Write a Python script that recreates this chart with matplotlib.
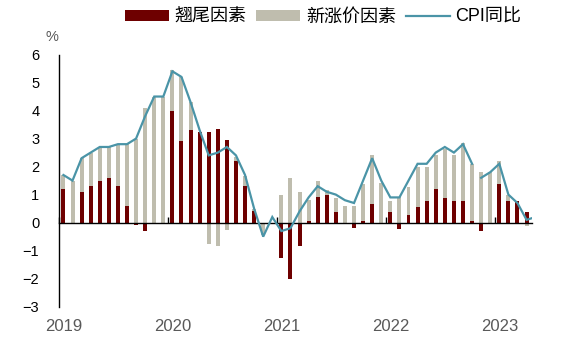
import matplotlib
matplotlib.use("Agg")
import matplotlib.pyplot as plt
import numpy as np
import pandas as pd

plt.rcParams['font.family'] = ['Liberation Sans', 'Noto Sans CJK SC', 'DejaVu Sans']

months = pd.period_range('2019-01', '2023-05', freq='M').strftime('%Y-%m').tolist()

carry = [1.2, 0.0, 1.1, 1.3, 1.5, 1.6, 1.3, 0.6, -0.1, -0.3, 0.0, 0.0,
         4.0, 2.9, 3.3, 3.25, 3.25, 3.35, 2.95, 2.2, 1.3, 0.4, 0.0, 0.0,
         -1.25, -2.0, -0.85, 0.07, 0.9, 1.0, 0.38, 0.0, -0.2, 0.07, 0.68, 0.0,
         0.38, -0.21, 0.27, 0.57, 0.78, 1.2, 0.88, 0.78, 0.78, 0.07, -0.3, 0.0,
         1.38, 0.78, 0.78, 0.38, 0.0]

newprice = [0.5, 1.5, 1.2, 1.2, 1.2, 1.1, 1.5, 2.2, 3.0, 4.1, 4.5, 4.5,
            1.45, 2.3, 1.0, 0.0, -0.75, -0.85, -0.25, 0.15, 0.35, 0.1, -0.45, 0.0,
            1.0, 1.6, 1.1, 0.74, 0.57, 0.18, 0.51, 0.6, 0.6, 1.31, 1.73, 1.4,
            0.4, 0.9, 1.0, 1.43, 1.22, 1.21, 1.74, 1.63, 2.05, 2.03, 1.82, 1.82,
            0.82, 0.2, 0.0, -0.12, 0.2]

cpi = [1.7, 1.5, 2.3, 2.5, 2.7, 2.7, 2.8, 2.8, 3.0, 3.8, 4.5, 4.5,
       5.4, 5.2, 4.3, 3.3, 2.4, 2.5, 2.7, 2.4, 1.7, 0.5, -0.5, 0.2,
       -0.3, -0.2, 0.4, 0.9, 1.3, 1.1, 1.0, 0.8, 0.7, 1.5, 2.3, 1.5,
       0.9, 0.9, 1.5, 2.1, 2.1, 2.5, 2.7, 2.5, 2.8, 2.1, 1.6, 1.8,
       2.1, 1.0, 0.7, 0.1, 0.2]

years = ['2019', '2020', '2021', '2022', '2023']
line_break_after = '2022-10'

RED = '#6E0000'
GRAY = '#BFBDAE'
TEAL = '#4A94A7'

x = np.arange(len(months))
carry_a = np.array(carry)
new_a = np.array(newprice)
new_bottom = np.where(new_a >= 0, np.maximum(carry_a, 0), np.minimum(carry_a, 0))

fig = plt.figure(figsize=(5.61, 3.46), dpi=100)
ax = fig.add_axes([58.7/561, 1-306.7/346, (532-58.7)/561, (306.7-54.5)/346])

w = 0.44
b1 = ax.bar(x, carry_a, width=w, color=RED, label='翘尾因素', zorder=1)
b2 = ax.bar(x, new_a, width=w, bottom=new_bottom, color=GRAY, label='新涨价因素', zorder=1)

k = months.index(line_break_after) + 1
l1, = ax.plot(x[:k], cpi[:k], color=TEAL, lw=1.6, label='CPI同比', zorder=3, solid_joinstyle='miter')
ax.plot(x[k:], cpi[k:], color=TEAL, lw=1.6, zorder=3, solid_joinstyle='miter')

ax.set_xlim(-0.52, 51.6)
ax.set_ylim(-3, 6)
ax.set_yticks(range(-3, 7))
ax.tick_params(axis='y', length=0, pad=14, labelsize=10.5, labelcolor='black')

for s in ['top', 'right']:
    ax.spines[s].set_visible(False)
ax.spines['left'].set_linewidth(1.0)
ax.spines['left'].set_color('black')
ax.spines['bottom'].set_position(('data', 0))
ax.spines['bottom'].set_linewidth(1.0)
ax.spines['bottom'].set_color('black')
ax.spines['bottom'].set_zorder(2.5)

year_starts = [months.index(y + '-01') for y in years]
ax.set_xticks([p - 0.5 for p in year_starts])
ax.set_xticklabels([])
ax.tick_params(axis='x', direction='in', length=4, width=1, color='black', labelbottom=False)

sec = ax.secondary_xaxis('bottom')
sec.set_xticks(year_starts)
sec.set_xticklabels(years)
sec.tick_params(length=0, pad=9, labelsize=12, labelcolor='#595959')
sec.spines['bottom'].set_visible(False)

fig.text(52/561, 1-37/346, '%', ha='center', va='center', fontsize=10.5, color='#595959')

fig.legend([b1, b2, l1], ['翘尾因素', '新涨价因素', 'CPI同比'], loc='center',
           bbox_to_anchor=(323/561, 1-17/346), ncol=3, frameon=False,
           fontsize=13, handlelength=2.45, handleheight=0.55, handletextpad=0.3,
           columnspacing=0.55, borderpad=0, borderaxespad=0)

fig.savefig('out.png', dpi=100)
